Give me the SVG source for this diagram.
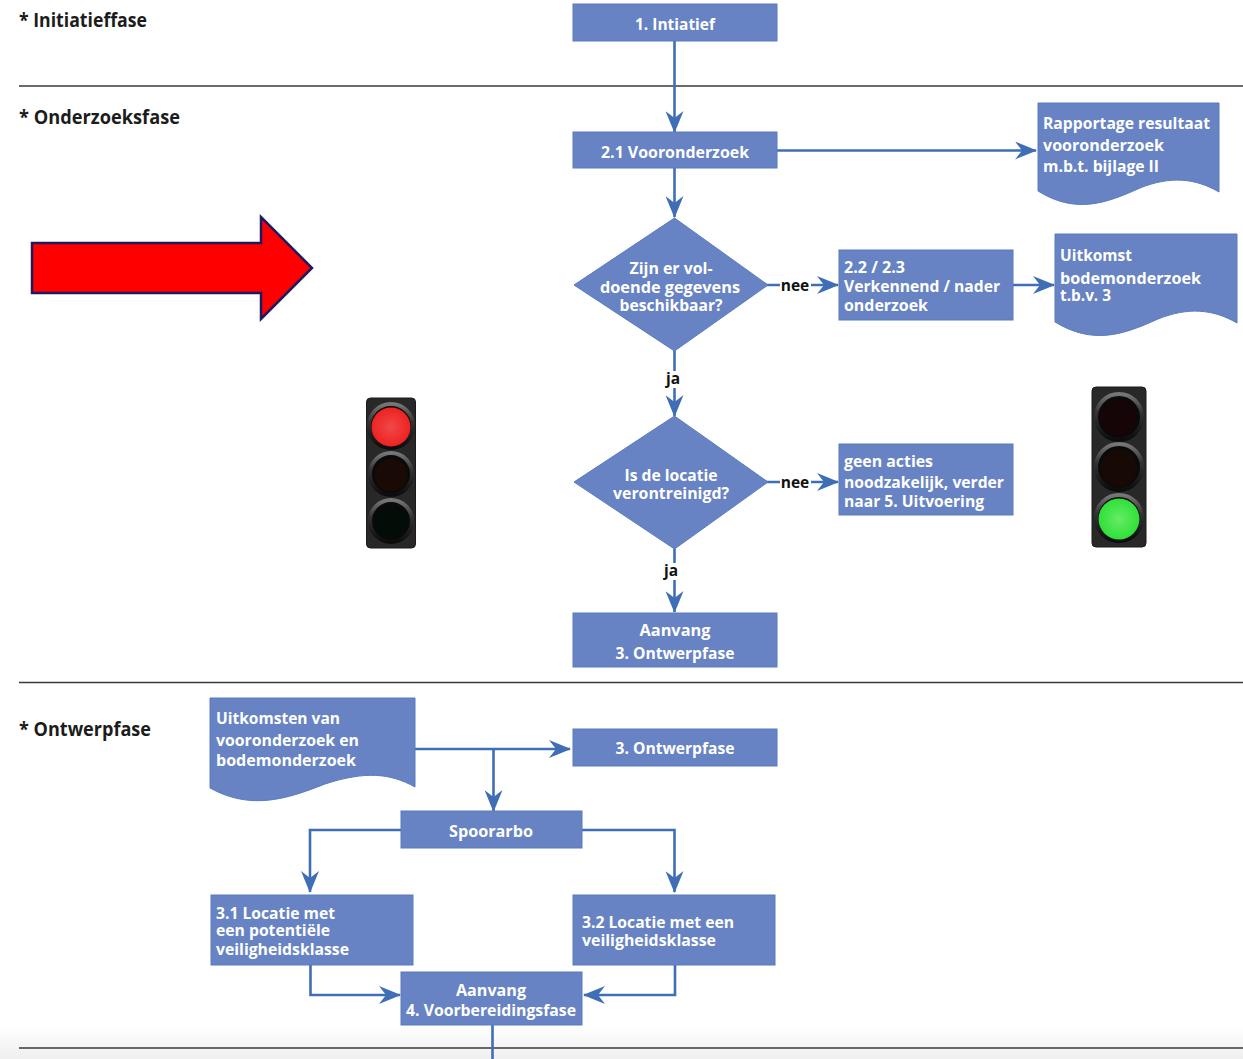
<svg xmlns="http://www.w3.org/2000/svg" width="1243" height="1059" viewBox="0 0 1243 1059">
<style>
.n{fill:#6783c3;stroke:#5a7bbd;stroke-width:1}
text{font-family:"Open Sans","Liberation Sans",sans-serif;font-weight:700}
.w{fill:#fff;font-size:16.5px}
.c{text-anchor:middle}
.h{fill:#1c1c1c;font-size:19px}
.l{fill:#111;font-size:15.5px}
.e{fill:none;stroke:#3f6eb6;stroke-width:2.6}
.d{stroke:#3a3a3a;stroke-width:1.4}
.hs{fill:#282828;stroke:#1a1a1a;stroke-width:1}
.rim{fill:#0a0a0a;stroke:url(#rimg);stroke-width:4}
</style>
<defs>
<marker id="a" viewBox="0 0 22 18" refX="21" refY="9" markerWidth="22" markerHeight="18" markerUnits="userSpaceOnUse" orient="auto"><path d="M0 0L22 9L0 18L7 9Z" fill="#3f6eb6"/></marker>
<linearGradient id="rimg" x1="0" y1="0" x2="0" y2="1"><stop offset="0" stop-color="#777"/><stop offset=".4" stop-color="#333"/><stop offset="1" stop-color="#0c0c0c"/></linearGradient>
<radialGradient id="rg"><stop offset="0" stop-color="#f04848"/><stop offset="1" stop-color="#ee2222"/></radialGradient>
<radialGradient id="gg"><stop offset="0" stop-color="#66ec66"/><stop offset="1" stop-color="#2fe039"/></radialGradient>
<linearGradient id="bot" x1="0" y1="0" x2="0" y2="1"><stop offset="0" stop-color="#fff"/><stop offset="1" stop-color="#efefef"/></linearGradient>
</defs>
<rect width="1243" height="1059" fill="#fff"/>
<rect y="1025" width="1243" height="34" fill="url(#bot)"/>
<g id="dividers">
<line class="d" x1="19" y1="86" x2="1243" y2="86"/>
<line class="d" x1="19" y1="682.500" x2="1243" y2="682.500"/>
<line class="d" x1="19" y1="1048" x2="1243" y2="1048"/>
</g>
<g id="phases">
<text class="h" x="19" y="27" textLength="128" lengthAdjust="spacingAndGlyphs">* Initiatieffase</text>
<text class="h" x="19" y="124" textLength="161" lengthAdjust="spacingAndGlyphs">* Onderzoeksfase</text>
<text class="h" x="19" y="736" textLength="132" lengthAdjust="spacingAndGlyphs">* Ontwerpfase</text>
</g>
<g id="connectors">
<path class="e" marker-end="url(#a)" d="M674.500 41V132"/>
<path class="e" marker-end="url(#a)" d="M777 150.500H1036"/>
<path class="e" marker-end="url(#a)" d="M674.500 168V217"/>
<path class="e" marker-end="url(#a)" d="M766 285H838"/>
<path class="e" marker-end="url(#a)" d="M1013 285H1054"/>
<path class="e" marker-end="url(#a)" d="M674.500 350V416"/>
<path class="e" marker-end="url(#a)" d="M766 482H838"/>
<path class="e" marker-end="url(#a)" d="M674.500 548V612"/>
<path class="e" marker-end="url(#a)" d="M415 749H570"/>
<path class="e" marker-end="url(#a)" d="M493.500 749V811"/>
<path class="e" marker-end="url(#a)" d="M401 830H310V892"/>
<path class="e" marker-end="url(#a)" d="M582 830H674.500V892"/>
<path class="e" marker-end="url(#a)" d="M310.500 965V995H400"/>
<path class="e" marker-end="url(#a)" d="M675 965V995H584"/>
<path class="e" d="M492.500 1025V1059"/>
</g>
<g id="edge-labels">
<rect x="780" y="276" width="31" height="18" fill="#fff"/>
<text class="l c" x="795" y="291">nee</text>
<rect x="780" y="473" width="31" height="18" fill="#fff"/>
<text class="l c" x="795" y="488">nee</text>
<rect x="664" y="371" width="20" height="17" fill="#fff"/>
<text class="l c" x="673" y="384">ja</text>
<rect x="662" y="563" width="20" height="17" fill="#fff"/>
<text class="l c" x="671" y="576">ja</text>
</g>
<g id="n1"><rect class="n" x="573" y="4" width="204" height="37"/><text class="w c" x="675" y="30" textLength="80" lengthAdjust="spacingAndGlyphs">1. Intiatief</text></g>
<g id="n21"><rect class="n" x="573" y="132" width="204" height="36"/><text class="w c" x="675" y="158" textLength="148" lengthAdjust="spacingAndGlyphs">2.1 Vooronderzoek</text></g>
<g id="rapportage"><path class="n" d="M1038 103H1219V192C1195 178 1170 176 1140 188C1105 204 1075 214 1038 191Z"/>
<text class="w" x="1043" y="129" textLength="167" lengthAdjust="spacingAndGlyphs">Rapportage resultaat</text>
<text class="w" x="1043" y="151" textLength="121" lengthAdjust="spacingAndGlyphs">vooronderzoek</text>
<text class="w" x="1043" y="172" textLength="116" lengthAdjust="spacingAndGlyphs">m.b.t. bijlage II</text></g>
<g id="d1"><path class="n" d="M674.500 218L768 285L674.500 351L574 285Z"/>
<text class="w c" x="671" y="274" textLength="83" lengthAdjust="spacingAndGlyphs">Zijn er vol-</text>
<text class="w c" x="670" y="293" textLength="140" lengthAdjust="spacingAndGlyphs">doende gegevens</text>
<text class="w c" x="671" y="311" textLength="103" lengthAdjust="spacingAndGlyphs">beschikbaar?</text></g>
<g id="n22"><rect class="n" x="839" y="250" width="174" height="70"/>
<text class="w" x="844" y="273" textLength="61" lengthAdjust="spacingAndGlyphs">2.2 / 2.3</text>
<text class="w" x="844" y="292" textLength="156" lengthAdjust="spacingAndGlyphs">Verkennend / nader</text>
<text class="w" x="844" y="311" textLength="84" lengthAdjust="spacingAndGlyphs">onderzoek</text></g>
<g id="uitkomst"><path class="n" d="M1055 234H1237V323C1213 309 1188 307 1158 319C1123 335 1093 345 1055 322Z"/>
<text class="w" x="1060" y="261" textLength="72" lengthAdjust="spacingAndGlyphs">Uitkomst</text>
<text class="w" x="1060" y="284" textLength="141" lengthAdjust="spacingAndGlyphs">bodemonderzoek</text>
<text class="w" x="1060" y="301" textLength="51" lengthAdjust="spacingAndGlyphs">t.b.v. 3</text></g>
<g id="d2"><path class="n" d="M674.500 416L768 482L674.500 549L574 482Z"/>
<text class="w c" x="671" y="481" textLength="93" lengthAdjust="spacingAndGlyphs">Is de locatie</text>
<text class="w c" x="671" y="499" textLength="116" lengthAdjust="spacingAndGlyphs">verontreinigd?</text></g>
<g id="geen"><rect class="n" x="839" y="444" width="174" height="71"/>
<text class="w" x="844" y="467" textLength="89" lengthAdjust="spacingAndGlyphs">geen acties</text>
<text class="w" x="844" y="488" textLength="160" lengthAdjust="spacingAndGlyphs">noodzakelijk, verder</text>
<text class="w" x="844" y="507" textLength="140" lengthAdjust="spacingAndGlyphs">naar 5. Uitvoering</text></g>
<g id="aanvang3"><rect class="n" x="573" y="613" width="204" height="54"/>
<text class="w c" x="675" y="636" textLength="71" lengthAdjust="spacingAndGlyphs">Aanvang</text>
<text class="w c" x="675" y="659" textLength="119" lengthAdjust="spacingAndGlyphs">3. Ontwerpfase</text></g>
<g id="uitkomsten"><path class="n" d="M210 698H415V787C390 773 365 771 325 784C285 800 250 810 210 788Z"/>
<text class="w" x="216" y="724" textLength="124" lengthAdjust="spacingAndGlyphs">Uitkomsten van</text>
<text class="w" x="216" y="746" textLength="143" lengthAdjust="spacingAndGlyphs">vooronderzoek en</text>
<text class="w" x="216" y="766" textLength="140" lengthAdjust="spacingAndGlyphs">bodemonderzoek</text></g>
<g id="n3"><rect class="n" x="573" y="729" width="204" height="37"/><text class="w c" x="675" y="754" textLength="119" lengthAdjust="spacingAndGlyphs">3. Ontwerpfase</text></g>
<g id="spoor"><rect class="n" x="401" y="811" width="181" height="37"/><text class="w c" x="491" y="837" textLength="84" lengthAdjust="spacingAndGlyphs">Spoorarbo</text></g>
<g id="n31"><rect class="n" x="211" y="895" width="202" height="70"/>
<text class="w" x="216" y="919" textLength="119" lengthAdjust="spacingAndGlyphs">3.1 Locatie met</text>
<text class="w" x="216" y="936" textLength="114" lengthAdjust="spacingAndGlyphs">een potentiële</text>
<text class="w" x="216" y="955" textLength="133" lengthAdjust="spacingAndGlyphs">veiligheidsklasse</text></g>
<g id="n32"><rect class="n" x="573" y="895" width="202" height="70"/>
<text class="w" x="582" y="928" textLength="152" lengthAdjust="spacingAndGlyphs">3.2 Locatie met een</text>
<text class="w" x="582" y="946" textLength="134" lengthAdjust="spacingAndGlyphs">veiligheidsklasse</text></g>
<g id="aanvang4"><rect class="n" x="401" y="972" width="181" height="53"/>
<text class="w c" x="491" y="996" textLength="70" lengthAdjust="spacingAndGlyphs">Aanvang</text>
<text class="w c" x="491" y="1016" textLength="170" lengthAdjust="spacingAndGlyphs">4. Voorbereidingsfase</text></g>
<g id="red-arrow"><path d="M32 243H261V217L312 268L261 319V293H32Z" fill="#fe0000" stroke="#1d1a5e" stroke-width="2.500"/></g>
<g id="light-red">
<rect class="hs" x="366.500" y="398" width="49" height="150" rx="4"/>
<circle class="rim" cx="391" cy="426" r="22"/><circle cx="391" cy="427" r="19.500" fill="url(#rg)"/>
<circle class="rim" cx="391" cy="474" r="21"/><circle cx="391" cy="475" r="16.500" fill="#1a0a06"/>
<circle class="rim" cx="391" cy="521" r="21"/><circle cx="391" cy="522" r="16.500" fill="#030c07"/>
</g>
<g id="light-green">
<rect class="hs" x="1092" y="387" width="54" height="160" rx="4"/>
<circle class="rim" cx="1119" cy="417" r="23"/><circle cx="1119" cy="418" r="18.500" fill="#160506"/>
<circle class="rim" cx="1119" cy="467" r="23"/><circle cx="1119" cy="468" r="18.500" fill="#170a05"/>
<circle class="rim" cx="1119" cy="518" r="23"/><circle cx="1119" cy="519" r="20.500" fill="url(#gg)"/>
</g>
</svg>
